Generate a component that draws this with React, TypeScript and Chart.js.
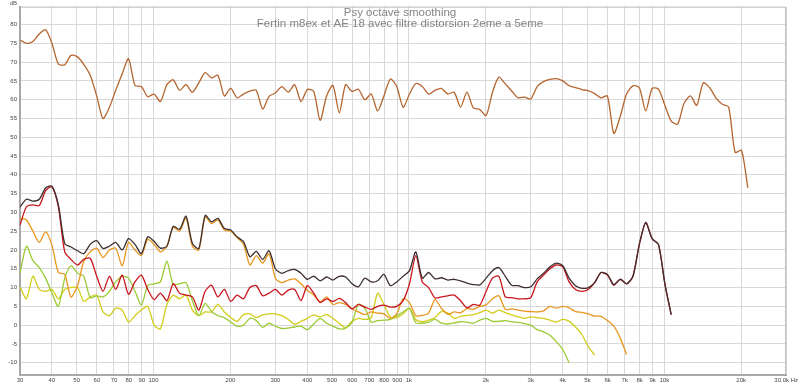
import React, { useEffect, useRef } from "react";
import { Chart, registerables } from "chart.js";

Chart.register(...registerables);

// Frequency grid (Hz)
const freqs = [
  30.0, 31.8, 33.7, 35.7, 37.8, 40.0, 42.4, 44.9, 47.5, 50.4,
  53.3, 56.5, 59.9, 63.4, 67.2, 71.1, 75.4, 79.8, 84.6, 89.6,
  94.9, 100.5, 106.4, 112.8, 119.4, 126.5, 134.0, 142.0, 150.4, 159.3,
  168.7, 178.7, 189.3, 200.6, 212.4, 225.0, 238.4, 252.5, 267.5, 283.4,
  300, 318, 337, 357, 378, 400, 424, 449, 476, 504,
  534, 565, 599, 634, 672, 712, 754, 798, 846, 896,
  949, 1005, 1064, 1128, 1194, 1265, 1340, 1420, 1504, 1593,
  1687, 1787, 1893, 2006, 2124, 2250, 2384, 2525, 2675, 2834,
  3000, 3178, 3366, 3566, 3778, 4002, 4239, 4491, 4755, 5038,
  5335, 5651, 5986, 6341, 6717, 7115, 7537, 7984, 8457, 8958,
  9487, 10050, 10640, 11280, 11940, 12650, 13400, 14200, 15040, 15930,
  16870, 17870, 18930, 20060, 21240,
];

// Fundamental (dB)
const fundamental = [
  75.9, 75.0, 75.5, 77.5, 78.6, 75.0, 69.5, 69.3, 71.8, 71.4,
  69.4, 66.5, 61.0, 55.0, 58.0, 62.5, 66.9, 70.9, 63.8, 63.5,
  60.8, 61.5, 59.5, 64.0, 65.3, 62.5, 64.0, 62.0, 64.5, 67.2,
  65.8, 66.5, 61.0, 63.0, 60.5, 61.5, 62.3, 62.5, 57.5, 60.9,
  61.8, 63.5, 62.0, 64.0, 59.5, 62.7, 62.2, 54.5, 61.0, 63.8,
  56.5, 64.0, 62.2, 62.8, 60.0, 61.5, 57.0, 61.0, 65.5, 63.5,
  58.0, 61.5, 64.3, 63.5, 61.5, 62.5, 63.0, 61.5, 62.0, 58.0,
  62.0, 57.8, 57.4, 55.8, 62.0, 66.0, 64.2, 62.3, 60.5, 60.7,
  60.2, 63.5, 64.8, 65.4, 65.6, 65.0, 63.7, 63.2, 62.7, 62.4,
  61.6, 60.5, 61.0, 51.0, 55.5, 61.5, 63.7, 63.2, 57.0, 63.0,
  62.8, 58.5, 54.3, 53.5, 59.0, 61.0, 58.5, 64.5, 63.2, 60.5,
  58.8, 58.0, 46.0, 46.5, 36.5,
];

// THD (dB)
const thd = [
  31.4, 33.5, 33.0, 33.5, 36.5, 37.0, 32.0, 21.7, 20.8, 19.8,
  19.0, 21.5, 22.5, 20.4, 21.0, 22.0, 20.0, 23.0, 21.5, 19.0,
  23.5, 22.3, 20.5, 21.0, 26.3, 25.5, 29.0, 21.7, 20.4, 29.2,
  27.5, 28.4, 25.7, 25.3, 23.5, 22.2, 18.2, 19.6, 17.5, 19.8,
  15.0, 13.8, 14.5, 14.8, 13.8, 12.2, 13.0, 11.8, 12.8, 12.0,
  13.0, 12.8, 11.0, 10.2, 12.5, 11.5, 11.8, 13.5, 10.5, 11.5,
  13.0, 14.5, 19.5, 12.5, 14.0, 12.3, 12.6, 12.0, 12.2, 11.8,
  11.2, 10.8, 10.7, 12.5, 14.5, 15.3, 13.0, 10.6, 10.5, 10.0,
  10.2, 12.3, 13.8, 15.5, 16.5, 15.8, 12.5, 10.5, 9.8, 10.0,
  11.3, 14.0, 13.5, 10.8, 12.2, 11.0, 13.0, 21.5, 27.3, 23.0,
  21.5, 11.0, 2.8,
];

// 2nd harmonic (dB)
const h2 = [
  26.6, 31.5, 32.0, 31.8, 35.8, 36.8, 31.5, 19.5, 17.5, 16.0,
  17.5, 17.8, 13.0, 9.0, 13.0, 9.5, 13.3, 8.2, 11.5, 13.3,
  9.5, 6.8, 8.5, 6.5, 11.0, 8.5, 8.0, 7.5, 4.0, 9.0,
  10.6, 7.5, 9.5, 6.3, 8.0, 7.0, 10.0, 10.5, 7.8, 8.5,
  9.5, 8.0, 9.3, 9.5, 6.5, 10.5, 8.5, 6.0, 7.0, 6.3,
  7.1, 6.0, 4.3, 5.5, 4.8, 4.2, 5.0, 5.3, 4.8, 5.0,
  6.5, 11.0, 18.5, 11.5, 10.0, 7.2, 7.5, 7.8, 8.0, 6.5,
  4.6, 5.5, 5.3, 9.0, 12.5, 13.0, 7.5, 7.3, 7.0, 7.0,
  7.3, 11.5, 13.3, 15.0, 16.0, 15.5, 11.5, 9.5, 9.0, 9.5,
  11.3, 14.0, 13.3, 10.6, 12.2, 11.0, 13.0, 21.5, 27.3, 23.0,
  21.5, 11.0, 2.8,
];

// 3rd harmonic (dB)
const h3 = [
  28.4, 28.0, 25.0, 22.0, 24.8, 21.3, 14.0, 13.5, 7.5, 10.5,
  17.0, 19.5, 20.5, 18.0, 20.0, 20.5, 15.8, 22.0, 20.0, 18.5,
  22.8, 21.5, 19.5, 21.0, 26.0, 25.0, 28.5, 21.0, 20.0, 28.8,
  27.0, 28.0, 25.3, 25.0, 23.3, 21.5, 16.0, 18.5, 16.5, 19.0,
  12.5, 11.3, 12.0, 12.3, 11.0, 9.3, 8.0, 6.2, 7.5, 5.5,
  6.0, 5.5, 4.3, 3.5, 2.8, 3.5, 3.2, 3.0, 1.8, 3.0,
  7.0, 6.0, 2.5, 2.6, 3.2, 6.8, 4.5, 2.9, 3.5, 3.3,
  4.4, 4.2, 5.0, 5.4, 7.0, 7.8, 4.2, 4.3, 4.0, 3.7,
  3.6, 3.5, 3.8, 5.0, 4.5, 5.0, 4.6, 3.6, 3.4, 3.0,
  2.4, 2.3, 1.2, -0.3, -3.4, -7.8,
];

// 4th harmonic (dB)
const h4 = [
  13.8, 21.0, 17.2, 15.3, 12.5, 8.5, 5.0, 12.4, 15.8, 13.8,
  13.0, 7.3, 7.8, 7.5, 9.0, 11.5, 13.0, 12.5, 9.0, 5.3,
  10.5, 11.0, 11.5, 17.0, 10.8, 11.0, 11.3, 6.5, 2.5, 5.8,
  3.6, 2.5, 2.0, 0.8, -0.3, 0.0, 1.8, 1.2, -0.6, 0.5,
  -0.3, -0.9, -0.8, -0.5, -0.3, -1.2, 0.3, 1.8, 0.5, -0.3,
  -1.0, -0.8, 0.8, 5.5, 4.5, 0.8, 1.2, 1.3, 1.5, 2.5,
  3.5, 4.5, 0.6, 0.5, 0.8, 1.5, 0.5, 0.3, 0.6, 0.9,
  0.8, 0.5, 1.3, 1.8, 1.0, 1.0, 1.2, 0.9, 0.7, 0.4,
  0.0, -1.2, -1.8, -2.7, -4.4, -6.5, -10.0,
];

// 5th harmonic (dB)
const h5 = [
  10.2, 7.0, 13.0, 9.5, 9.0, 9.5, 7.0, 9.5, 10.0, 10.0,
  6.3, 7.5, 8.0, 3.5, 2.5, 4.5, 4.0, 0.8, 2.5, 4.0,
  5.0, 0.0, -1.0, 5.5, 8.0, 7.0, 8.0, 4.0, 2.5, 3.5,
  3.5, 5.5, 3.5, 2.0, 1.0, 2.8, 3.0, 2.0, 2.7, 3.0,
  3.0, 2.5, 1.5, 0.2, 1.0, 1.8, 2.7, 2.2, 2.8, 1.8,
  0.5, -0.7, 1.0, 1.8, 1.5, 2.0, 8.5, 5.5, 2.2, 2.0,
  3.0, 4.5, 1.5, 0.9, 1.3, 2.0, 3.6, 3.2, 1.8, 2.3,
  2.6, 2.8, 3.3, 4.0, 3.2, 4.0, 3.3, 2.7, 2.2, 1.8,
  2.2, 2.0, 1.8, 1.3, 0.8, 1.5, 1.0, -0.5, -2.5, -5.7,
  -8.0,
];

const xTicks = [
  30, 40, 50, 60, 70, 80, 90, 100, 200, 300, 400, 500, 600, 700, 800, 900,
  1000, 2000, 3000, 4000, 5000, 6000, 7000, 8000, 9000, 10000, 20000, 30000,
];
const xTickLabels = [
  "30", "40", "50", "60", "70", "80", "90", "100", "200", "300", "400", "500",
  "600", "700", "800", "900", "1k", "2k", "3k", "4k", "5k", "6k", "7k", "8k",
  "9k", "10k", "20k", "30.0k Hz",
];
const yTicks = [-10, -5, 0, 5, 10, 15, 20, 25, 30, 35, 40, 45, 50, 55, 60, 65, 70, 75, 80];
const yUnit = "dB";
const titleLines = [
  "Psy octave smoothing",
  "Fertin m8ex et AE 18 avec filtre distorsion 2eme a 5eme",
];

const FONT = '"Liberation Sans", Arial, sans-serif';

function toPoints(vals: number[]) {
  const pts: { x: number; y: number }[] = [];
  for (let i = 0; i < vals.length && i < freqs.length; i++) {
    pts.push({ x: freqs[i], y: vals[i] });
  }
  return pts;
}

const framePlugin = {
  id: "framePlugin",
  afterDraw(chart: any) {
    const { ctx, chartArea } = chart;
    const { left, right, top, bottom } = chartArea;
    ctx.save();
    ctx.strokeStyle = "#b8b8b8";
    ctx.lineWidth = 1;
    ctx.beginPath();
    ctx.moveTo(left, top + 0.5);
    ctx.lineTo(right - 0.5, top + 0.5);
    ctx.lineTo(right - 0.5, bottom);
    ctx.stroke();

    ctx.fillStyle = "#555";
    ctx.font = `6px ${FONT}`;
    ctx.textAlign = "right";
    ctx.textBaseline = "middle";
    ctx.fillText(yUnit, left - 3, 3);

    ctx.fillStyle = "#858585";
    ctx.font = `11.5px ${FONT}`;
    ctx.textAlign = "center";
    ctx.fillText(titleLines[0], 400, 13);
    ctx.fillText(titleLines[1], 400, 24);
    ctx.restore();
  },
};

export default function App() {
  const canvasRef = useRef<HTMLCanvasElement | null>(null);

  useEffect(() => {
    const canvas = canvasRef.current;
    if (!canvas) return;
    const lw = 1.3;
    const mk = (label: string, vals: number[], color: string) => ({
      label,
      data: toPoints(vals),
      borderColor: color,
      backgroundColor: color,
      borderWidth: lw,
      pointRadius: 0,
      tension: 0.25,
      fill: false,
    });
    const chart = new Chart(canvas, {
      type: "line",
      data: {
        datasets: [
          mk("THD", thd, "#3e2f2f"),
          mk("H2", h2, "#c8161c"),
          mk("H3", h3, "#e8961e"),
          mk("Fundamental", fundamental, "#b5652f"),
          mk("H4", h4, "#9acb34"),
          mk("H5", h5, "#d2cd18"),
        ],
      },
      options: {
        animation: false,
        responsive: false,
        devicePixelRatio: 1,
        layout: { padding: { left: 0, right: 10, top: 6, bottom: 0 } },
        plugins: {
          legend: { display: false },
          tooltip: { enabled: false },
          title: { display: false },
        },
        scales: {
          x: {
            type: "logarithmic",
            min: 30,
            max: 30000,
            afterBuildTicks: (s: any) => {
              s.ticks = xTicks.map((v) => ({ value: v }));
            },
            afterFit: (s: any) => {
              s.height = 11;
            },
            grid: { color: "#d8d8d8", lineWidth: 1, drawTicks: false },
            border: { color: "#a8a8a8", width: 2 },
            ticks: {
              autoSkip: false,
              maxRotation: 0,
              minRotation: 0,
              padding: 2,
              color: "#444",
              font: { size: 6, family: FONT },
              callback: (_v: any, i: number) => xTickLabels[i],
            },
          },
          y: {
            type: "linear",
            min: -13.28,
            max: 84.78,
            afterBuildTicks: (s: any) => {
              s.ticks = yTicks.map((v) => ({ value: v }));
            },
            afterFit: (s: any) => {
              s.width = 20;
            },
            grid: { color: "#d8d8d8", lineWidth: 1, drawTicks: false },
            border: { color: "#a8a8a8", width: 2 },
            ticks: {
              padding: 3,
              color: "#444",
              font: { size: 6, family: FONT },
              callback: (v: any) => String(v),
            },
          },
        },
      },
      plugins: [framePlugin],
    });
    return () => chart.destroy();
  }, []);

  return (
    <div style={{ position: "absolute", left: 0, top: 0, width: 800, height: 386, background: "#fff" }}>
      <canvas ref={canvasRef} width={800} height={386} style={{ display: "block" }} />
    </div>
  );
}
